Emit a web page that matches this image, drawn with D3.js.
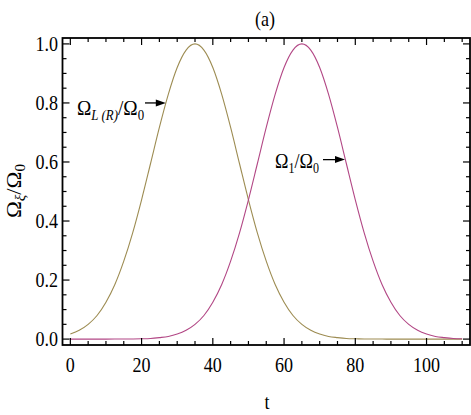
<!DOCTYPE html>
<html><head><meta charset="utf-8">
<script src="https://cdn.jsdelivr.net/npm/d3@7"></script>
<style>body{margin:0;background:#fff}svg{display:block}</style>
</head><body><svg id="c" width="471" height="415"></svg>
<script>
const tValues = [0,2.5,5,7.5,10,12.5,15,17.5,20,22.5,25,27.5,30,32.5,35,37.5,40,42.5,45,47.5,50,52.5,55,57.5,60,62.5,65,67.5,70,72.5,75,77.5,80,82.5,85,87.5,90,92.5,95,97.5,100,102.5,105,107.5,110];
const omegaLR = [0.017,0.030,0.050,0.080,0.125,0.185,0.264,0.360,0.472,0.594,0.717,0.829,0.920,0.979,1.000,0.979,0.920,0.829,0.717,0.594,0.472,0.360,0.264,0.185,0.125,0.080,0.050,0.030,0.017,0.009,0.005,0.002,0.001,0.0005,0.0002,0.0001,0,0,0,0,0,0,0,0,0];
const omega1 = [0,0,0,0,0,0.0001,0.0002,0.0005,0.001,0.002,0.005,0.009,0.017,0.030,0.050,0.080,0.125,0.185,0.264,0.360,0.472,0.594,0.717,0.829,0.920,0.979,1.000,0.979,0.920,0.829,0.717,0.594,0.472,0.360,0.264,0.185,0.125,0.080,0.050,0.030,0.017,0.009,0.005,0.002,0.001];
const xMajor = [0,20,40,60,80,100];
const xMinor = [5,10,15,25,30,35,45,50,55,65,70,75,85,90,95,105,110];
const yMajor = [0,0.2,0.4,0.6,0.8,1.0];
const yMinor = [0.05,0.1,0.15,0.25,0.3,0.35,0.45,0.5,0.55,0.65,0.7,0.75,0.85,0.9,0.95];

const FONT = "'Liberation Serif', 'DejaVu Serif', serif";
const svg = d3.select("#c");
const L=62.5,R=470,T=38,B=345;
const x = d3.scaleLinear().domain([-2.2,112.2]).range([L,R]);
const y = d3.scaleLinear().domain([-0.02,1.02]).range([B,T]);
const SX = 0.86;

const line = d3.line().x((d,i)=>x(tValues[i])).y(d=>y(d)).curve(d3.curveMonotoneX);
svg.append("path").attr("d",line(omegaLR)).attr("fill","none").attr("stroke","#9d8c52").attr("stroke-width",1.1);
svg.append("path").attr("d",line(omega1)).attr("fill","none").attr("stroke","#b24785").attr("stroke-width",1.1);

svg.append("rect").attr("x",L).attr("y",T).attr("width",R-L).attr("height",B-T).attr("fill","none").attr("stroke","#000").attr("stroke-width",1.8);

const tk = svg.append("g").attr("stroke","#000").attr("stroke-width",1.2);
function xt(v,len){ tk.append("line").attr("x1",x(v)).attr("x2",x(v)).attr("y1",B).attr("y2",B-len);
  tk.append("line").attr("x1",x(v)).attr("x2",x(v)).attr("y1",T).attr("y2",T+len);}
function yt(v,len){ tk.append("line").attr("y1",y(v)).attr("y2",y(v)).attr("x1",L).attr("x2",L+len);
  tk.append("line").attr("y1",y(v)).attr("y2",y(v)).attr("x1",R).attr("x2",R-len);}
xMajor.forEach(v=>xt(v,7)); xMinor.forEach(v=>xt(v,4));
yMajor.forEach(v=>yt(v,7)); yMinor.forEach(v=>yt(v,4));

function txt(px,py,anchor,size,rot,sx){
  return svg.append("g").attr("transform",`translate(${px},${py})${rot?" rotate(-90)":""}`)
    .append("text").attr("transform",`scale(${sx||SX},1)`).attr("text-anchor",anchor)
    .attr("font-size",size).attr("font-family",FONT).attr("fill","#000");
}
xMajor.forEach(v=>txt(x(v),372,"middle",21).text(v));
yMajor.forEach(v=>txt(58,y(v)+7,"end",21).text(v.toFixed(1)));

txt(265,26,"middle",21).text("(a)");
txt(267,409,"middle",21).text("t");

function sub(t,s,italic,d){ t.append("tspan").attr("font-size",14).attr("font-style",italic?"italic":"normal").attr("dy",d).attr("fill","#000").text(s); }
function main(t,s,d){ t.append("tspan").attr("dy",d).attr("fill","#000").text(s); }

{ const t = txt(21,191,"middle",21,true,1.08);
  main(t,"Ω",0); sub(t,"ξ",true,4); main(t,"/Ω",-4); sub(t,"0",false,4); }

{ const t = txt(77,115,"start",21,false,0.92);
  main(t,"Ω",0); sub(t,"L (R)",true,5); main(t,"/Ω",-5); sub(t,"0",false,5);
  const tipX = x(26.8), tipY = y(0.80);
  svg.append("line").attr("x1",145).attr("y1",tipY).attr("x2",tipX-7).attr("y2",tipY).attr("stroke","#000").attr("stroke-width",1.3);
  svg.append("path").attr("d",`M${tipX},${tipY} L${tipX-10},${tipY-3.5} L${tipX-10},${tipY+3.5} Z`).attr("fill","#000");
}
{ const t = txt(275,168,"start",21);
  main(t,"Ω",0); sub(t,"1",false,5); main(t,"/Ω",-5); sub(t,"0",false,5);
  const tipX = x(77.1), tipY = y(0.608);
  svg.append("line").attr("x1",323).attr("y1",tipY).attr("x2",tipX-7).attr("y2",tipY).attr("stroke","#000").attr("stroke-width",1.3);
  svg.append("path").attr("d",`M${tipX},${tipY} L${tipX-10},${tipY-3.5} L${tipX-10},${tipY+3.5} Z`).attr("fill","#000");
}
</script></body></html>
